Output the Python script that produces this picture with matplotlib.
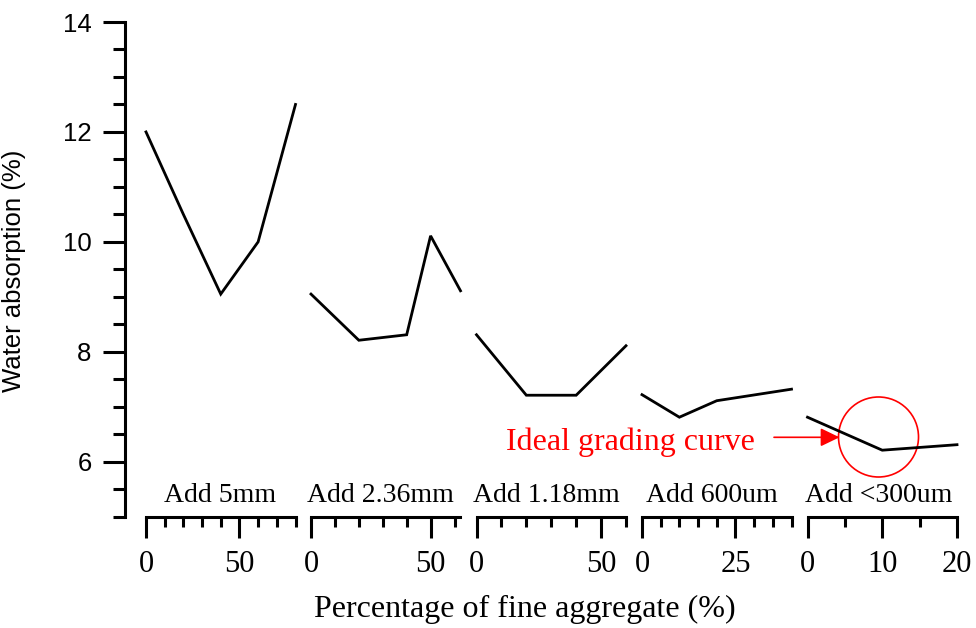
import matplotlib
matplotlib.use("Agg")
import matplotlib.pyplot as plt
from matplotlib.ticker import MultipleLocator, FixedLocator
from matplotlib.patches import Ellipse, FancyArrowPatch

# ---------------- data ----------------
panel_labels = ["Add 5mm", "Add 2.36mm", "Add 1.18mm", "Add 600um", "Add <300um"]
x_5mm = [0, 20, 40, 60, 80]
y_5mm = [12.0, 10.5, 9.05, 10.0, 12.5]
x_236 = [0, 20, 40, 50, 62.5]
y_236 = [9.05, 8.21, 8.31, 10.11, 9.11]
x_118 = [0, 20, 40, 60]
y_118 = [8.31, 7.21, 7.21, 8.11]
x_600 = [0, 10, 20, 40]
y_600 = [7.22, 6.81, 7.11, 7.32]
x_300 = [0, 10, 20]
y_300 = [6.81, 6.21, 6.31]
x_limits = [(0, 80), (0, 62.5), (0, 60), (0, 40), (0, 20)]
x_major = [50, 50, 50, 25, 10]
x_minor = [10, 10, 10, 5, 5]
y_ticks = [6, 8, 10, 12, 14]
ideal_point = (10, 6.2)

series_x = [x_5mm, x_236, x_118, x_600, x_300]
series_y = [y_5mm, y_236, y_118, y_600, y_300]

# ---------------- layout ----------------
W, H, DPI = 976, 628, 100
fig = plt.figure(figsize=(W / DPI, H / DPI), dpi=DPI)

y_axis_x = 125
ax_top, ax_bot = 22, 516.7
bottom = 1 - ax_bot / H
height = (ax_bot - ax_top) / H
panel_starts = [146, 311, 476.5, 642, 807.5]
panel_w = 149.5
label_centers = [0.495, 0.463, 0.467, 0.467, 0.475]

serif = ["Liberation Serif", "DejaVu Serif"]
sans = ["Liberation Sans", "DejaVu Sans"]
LW = 2.2

# y axis
ax0 = fig.add_axes([y_axis_x / W, bottom, 0.5, height])
ax0.set_ylim(5, 14)
ax0.set_xlim(0, 1)
ax0.patch.set_alpha(0)
for s in ["top", "right", "bottom"]:
    ax0.spines[s].set_visible(False)
ax0.spines["left"].set_linewidth(LW)
ax0.set_xticks([])
ax0.yaxis.set_major_locator(FixedLocator(y_ticks))
ax0.yaxis.set_minor_locator(MultipleLocator(0.5))
ax0.tick_params(axis="y", which="major", length=16, width=LW, direction="out",
                pad=8, labelsize=18.5)
ax0.tick_params(axis="y", which="minor", length=9, width=LW, direction="out")
for lab in ax0.get_yticklabels():
    lab.set_fontfamily(sans)
ax0.set_ylabel("Water absorption (%)", fontsize=18.5, family=sans)
ax0.yaxis.set_label_coords(-(y_axis_x - 26) / (0.5 * W),
                           (ax_bot - 270.5) / (ax_bot - ax_top))

axes = []
for i in range(5):
    ax = fig.add_axes([panel_starts[i] / W, bottom, panel_w / W, height])
    ax.patch.set_alpha(0)
    ax.set_xlim(*x_limits[i])
    ax.set_ylim(5, 14)
    for s in ["top", "right", "left"]:
        ax.spines[s].set_visible(False)
    ax.spines["bottom"].set_linewidth(LW)
    ax.spines["bottom"].set_capstyle("projecting")
    ax.set_yticks([])
    ax.xaxis.set_major_locator(MultipleLocator(x_major[i]))
    ax.xaxis.set_minor_locator(MultipleLocator(x_minor[i]))
    ax.tick_params(axis="x", which="major", length=15, width=LW, direction="out",
                   pad=9, labelsize=22)
    ax.tick_params(axis="x", which="minor", length=7.5, width=LW, direction="out")
    for lab in ax.get_xticklabels():
        lab.set_fontfamily(serif)
    ax.plot(series_x[i], series_y[i], color="black", lw=2.0, clip_on=False,
            solid_joinstyle="miter")
    ax.text(label_centers[i], (ax_bot - 501.7) / (ax_bot - ax_top), panel_labels[i],
            transform=ax.transAxes, ha="center", va="baseline",
            fontsize=20, family=serif)
    axes.append(ax)

# x label
fig.text(525 / W, 1 - 616.7 / H, "Percentage of fine aggregate (%)", ha="center",
         va="baseline", fontsize=23, family=serif)

# annotation: circle around the ideal grading point
ax5 = axes[4]
px_per_x = panel_w / (x_limits[4][1] - x_limits[4][0])
px_per_y = (ax_bot - ax_top) / 9.0
circ_r = 40
circ = Ellipse((ideal_point[0] - 0.5, ideal_point[1] + 0.25),
               width=2 * circ_r / px_per_x, height=2 * circ_r / px_per_y,
               fill=False, edgecolor="red", lw=1.2, clip_on=False)
ax5.add_patch(circ)

fig.text(506 / W, 1 - 450 / H, "Ideal grading curve", color="red",
         ha="left", va="baseline", fontsize=23, family=serif)
fig.patches.append(FancyArrowPatch(
    (774 / W, 1 - 437.3 / H), (839.5 / W, 1 - 437.3 / H),
    transform=fig.transFigure, arrowstyle="-|>,head_length=0.58,head_width=0.28",
    mutation_scale=20, color="red", lw=1.2, shrinkA=0, shrinkB=0))

fig.savefig("out.png", dpi=DPI)
